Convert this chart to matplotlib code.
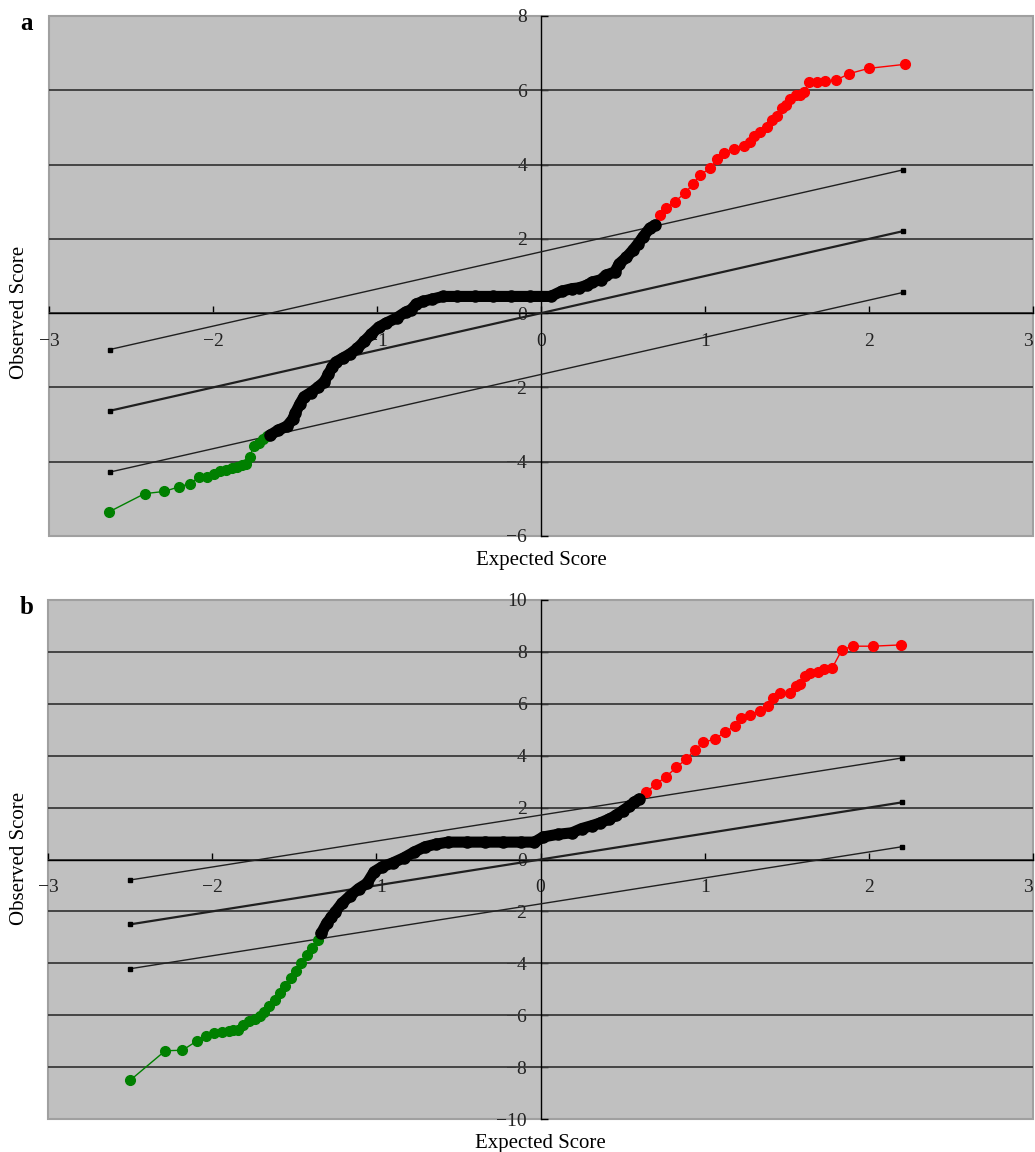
import matplotlib.pyplot as plt
from matplotlib.patches import Rectangle

plt.rcParams['font.family'] = ['Liberation Serif', 'DejaVu Serif']

# ---- panel a: sorted observed scores vs expected normal scores ----
a_green_x = [-2.634, -2.417, -2.297, -2.21, -2.14, -2.083, -2.035, -1.996, -1.956, -1.919,
             -1.886, -1.853, -1.825, -1.80, -1.777, -1.751, -1.722, -1.694, -1.668, -1.650]
a_green_y = [-5.35, -4.86, -4.80, -4.68, -4.59, -4.41, -4.41, -4.32, -4.26, -4.22,
             -4.17, -4.14, -4.10, -4.06, -3.87, -3.58, -3.49, -3.40, -3.32, -3.28]
a_black_x = [-1.650, -1.602, -1.548, -1.515, -1.497, -1.471, -1.445, -1.405, -1.362, -1.322,
             -1.296, -1.274, -1.252, -1.209, -1.165, -1.121, -1.078, -1.034, -0.990, -0.946,
             -0.881, -0.826, -0.793, -0.760, -0.717, -0.662, -0.597, -0.51, -0.40, -0.29,
             -0.18, -0.07, 0.059, 0.125, 0.19, 0.23, 0.278, 0.314, 0.365, 0.395, 0.45,
             0.477, 0.52, 0.559, 0.59, 0.621, 0.662, 0.693]
a_black_y = [-3.28, -3.15, -3.04, -2.86, -2.68, -2.45, -2.25, -2.14, -2.00, -1.85,
             -1.64, -1.46, -1.32, -1.21, -1.10, -0.95, -0.76, -0.56, -0.38, -0.27,
             -0.13, 0.03, 0.09, 0.25, 0.32, 0.38, 0.45, 0.45, 0.45, 0.45,
             0.45, 0.45, 0.45, 0.59, 0.66, 0.68, 0.75, 0.84, 0.90, 1.02, 1.11,
             1.33, 1.50, 1.69, 1.86, 2.05, 2.28, 2.37]
a_red_x = [0.693, 0.723, 0.764, 0.816, 0.877, 0.928, 0.969, 1.031, 1.072, 1.113,
           1.174, 1.236, 1.277, 1.297, 1.338, 1.379, 1.41, 1.44, 1.471, 1.492,
           1.518, 1.553, 1.58, 1.604, 1.635, 1.682, 1.732, 1.797, 1.881, 1.998, 2.221]
a_red_y = [2.37, 2.64, 2.82, 3.00, 3.23, 3.48, 3.72, 3.90, 4.14, 4.32,
           4.41, 4.50, 4.62, 4.76, 4.89, 5.01, 5.21, 5.32, 5.52, 5.61,
           5.77, 5.86, 5.86, 5.95, 6.22, 6.22, 6.26, 6.27, 6.45, 6.59, 6.70]
a_ref_x = [-2.63, 2.21]
a_ref_offset = 1.65

# ---- panel b ----
b_green_x = [-2.498, -2.286, -2.181, -2.092, -2.037, -1.987, -1.941, -1.90, -1.871, -1.843,
             -1.81, -1.777, -1.74, -1.707, -1.686, -1.653, -1.62, -1.587, -1.555, -1.522,
             -1.489, -1.456, -1.424, -1.391, -1.358, -1.336]
b_green_y = [-8.50, -7.37, -7.35, -6.99, -6.79, -6.67, -6.64, -6.62, -6.58, -6.56,
             -6.37, -6.24, -6.15, -6.05, -5.86, -5.64, -5.41, -5.15, -4.86, -4.58,
             -4.28, -4.00, -3.68, -3.42, -3.10, -2.85]
b_black_x = [-1.336, -1.303, -1.275, -1.249, -1.21, -1.162, -1.107, -1.057, -1.013, -0.965,
             -0.90, -0.834, -0.769, -0.703, -0.638, -0.561, -0.45, -0.34, -0.23, -0.12,
             -0.037, 0.017, 0.105, 0.192, 0.25, 0.316, 0.36, 0.418, 0.46, 0.50,
             0.54, 0.571, 0.602]
b_black_y = [-2.85, -2.46, -2.23, -2.01, -1.69, -1.41, -1.12, -0.92, -0.47, -0.28,
             -0.13, 0.06, 0.29, 0.49, 0.59, 0.67, 0.67, 0.67, 0.67, 0.67,
             0.67, 0.87, 0.97, 1.03, 1.19, 1.31, 1.40, 1.56, 1.70, 1.88,
             2.05, 2.21, 2.33]
b_red_x = [0.602, 0.643, 0.704, 0.765, 0.827, 0.888, 0.939, 0.99, 1.061, 1.122,
           1.184, 1.224, 1.276, 1.337, 1.388, 1.418, 1.459, 1.52, 1.557, 1.582,
           1.612, 1.643, 1.688, 1.724, 1.776, 1.837, 1.904, 2.024, 2.196]
b_red_y = [2.33, 2.59, 2.91, 3.19, 3.55, 3.87, 4.22, 4.51, 4.64, 4.90,
           5.15, 5.45, 5.58, 5.71, 5.92, 6.22, 6.40, 6.40, 6.69, 6.78,
           7.08, 7.18, 7.24, 7.36, 7.37, 8.09, 8.22, 8.22, 8.27]
b_ref_x = [-2.5, 2.2]
b_ref_offset = 1.71

fig = plt.figure(figsize=(10.35, 11.52), dpi=100)
H = 1152.0
W = 1035.0
ax_a = fig.add_axes([49 / W, 1 - 536 / H, 984 / W, 520 / H])
ax_b = fig.add_axes([48 / W, 1 - 1119 / H, 985 / W, 519 / H])


def draw_panel(ax, gx, gy, kx, ky, rx, ry, ref_x, off, ylim, letter, ylabel_y):
    ax.set_facecolor('#c0c0c0')
    ax.set_xlim(-3, 3)
    ax.set_ylim(*ylim)
    yticks = list(range(ylim[0], ylim[1] + 1, 2))

    # horizontal gridlines (drawn above the tick labels like the original)
    for yv in yticks[1:-1]:
        ax.axhline(yv, color='#3a3a3a', lw=1.3, zorder=1)

    # reference lines y = x and y = x +/- offset
    for d, lw in [(off, 1.0), (0, 1.6), (-off, 1.0)]:
        ax.plot(ref_x, [v + d for v in ref_x], color='#202020', lw=lw,
                marker='s', ms=3.5, mfc='black', mec='black', zorder=3)

    # data series
    ax.plot(gx, gy, color='#008000', lw=1, marker='o', ms=7,
            mfc='#008000', mec='#008000', zorder=4)
    ax.plot(kx, ky, color='black', lw=8, solid_capstyle='round',
            solid_joinstyle='round', marker='o', ms=8, zorder=5)
    ax.plot(rx, ry, color='#ff0000', lw=1, marker='o', ms=7,
            mfc='#ff0000', mec='#ff0000', zorder=4)

    # Excel-style axes crossing at zero
    for s in ['top', 'right']:
        ax.spines[s].set_visible(False)
    ax.spines['left'].set_position(('data', 0))
    ax.spines['bottom'].set_position(('data', 0))
    ax.spines['left'].set_linewidth(1.0)
    ax.spines['bottom'].set_linewidth(1.0)
    ax.add_patch(Rectangle((0, 0), 1, 1, transform=ax.transAxes, fill=False,
                           edgecolor='#a0a0a0', lw=1.5, clip_on=False, zorder=0.3))
    ax.set_axisbelow(True)

    ax.set_xticks(range(-3, 4))
    ax.set_yticks(yticks)
    ax.tick_params(direction='in', length=5, width=1, labelsize=14,
                   colors='black', labelcolor='#222222')
    ax.tick_params(axis='x', pad=14)
    ax.tick_params(axis='y', pad=10)
    # keep the last x label ("3") inside the figure
    ax.get_xticklabels()[-1].set_horizontalalignment('right')

    ax.text(0.5, -0.047, 'Expected Score', transform=ax.transAxes,
            ha='center', va='center', fontsize=15)
    fig.text(20 / W, ylabel_y, 'Observed Score', rotation=90,
             ha='center', va='center', fontsize=15)
    fig.text(20 / W, ax.get_position().y1 - 7 / H, letter, fontsize=18,
             fontweight='bold', ha='left', va='center')


draw_panel(ax_a, a_green_x, a_green_y, a_black_x, a_black_y, a_red_x, a_red_y,
           a_ref_x, a_ref_offset, (-6, 8), 'a', 1 - 312 / H)
draw_panel(ax_b, b_green_x, b_green_y, b_black_x, b_black_y, b_red_x, b_red_y,
           b_ref_x, b_ref_offset, (-10, 10), 'b', 1 - 858 / H)

fig.savefig('out.png', dpi=100)
